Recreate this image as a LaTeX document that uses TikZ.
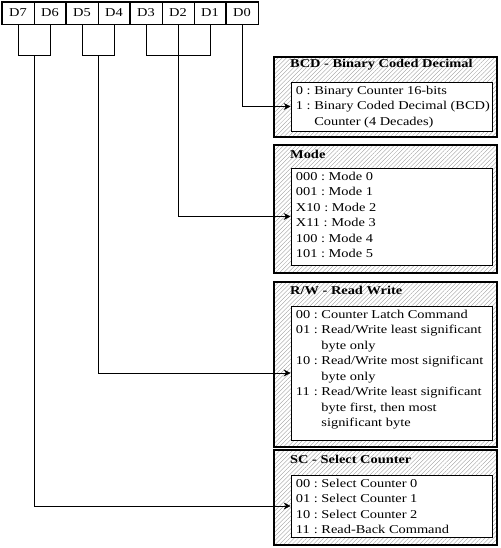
\documentclass[tikz,border=0pt]{standalone}
\usepackage{fontspec}
\setmainfont[FakeStretch=1.2]{Liberation Serif}
\usetikzlibrary{arrows.meta,patterns.meta}
\tikzset{
  cell/.style={draw,line width=0.6pt,minimum width=32pt,minimum height=22pt,inner sep=0pt,font=\fontsize{12}{14}\selectfont},
  grp/.style={draw,line width=1.2pt},
  brk/.style={line width=1pt},
  conn/.style={line width=0.8pt,-{Stealth[length=7pt,width=7pt]}},
  outerbox/.style={draw,line width=1.2pt,minimum width=223pt,inner sep=0pt,
     pattern={Lines[angle=45,distance=3pt,line width=0.35pt]},pattern color=gray!80},
  innerbox/.style={draw,fill=white,line width=0.7pt,minimum width=201pt,inner sep=0pt},
  ttl/.style={anchor=west,inner sep=0pt,font=\bfseries\fontsize{12}{14}\selectfont},
  txt/.style={anchor=north west,inner sep=0pt,font=\fontsize{12}{15.5}\selectfont},
}
\newcommand{\sep}{\ :\ \mbox{}}
\begin{document}
\begin{tikzpicture}[x=1pt,y=-1pt]
\useasboundingbox (0,0) rectangle (500,548);
% register
\foreach \n [count=\i from 0] in {7,6,5,4,3,2,1,0}
  \node[cell] (d\n) at (18+32*\i,13) {D\n};
\draw[grp] (d7.north west) rectangle (d6.south east);
\draw[grp] (d5.north west) rectangle (d4.south east);
\draw[grp] (d3.north west) rectangle (d1.south east);
\draw[grp] (d0.north west) rectangle (d0.south east);
% brackets
\coordinate (b76) at (34,56);
\coordinate (b54) at (98,56);
\coordinate (b31) at (d2.south |- 0,56);
\draw[brk] (d7.south) -- (d7.south |- b76) -- (d6.south |- b76) -- (d6.south);
\draw[brk] (d5.south) -- (d5.south |- b54) -- (d4.south |- b54) -- (d4.south);
\draw[brk] (d3.south) -- (d3.south |- b31) -- (d1.south |- b31) -- (d1.south);
\draw[brk] (d2.south) -- (b31);
% boxes
\node[outerbox,minimum height=80pt] (bcdout) at (385.5,97) {};
\node[innerbox,minimum height=49pt] (bcdin) at (391.5,106.5) {};
\node[ttl] at (290,65) {BCD - Binary Coded Decimal};
\node[txt] at ([xshift=5pt,yshift=-1.5pt]bcdin.north west) {\begin{tabular}{@{}l@{}l@{}l@{}}
0&\sep&Binary Counter 16-bits\\
1&\sep&Binary Coded Decimal (BCD)\\
&&Counter (4 Decades)
\end{tabular}};

\node[outerbox,minimum height=128pt] (modeout) at (385.5,209) {};
\node[innerbox,minimum height=97pt] (modein) at (391.5,216.5) {};
\node[ttl] at (290,154) {Mode};
\node[txt] at ([xshift=5pt,yshift=-1.5pt]modein.north west) {\begin{tabular}{@{}l@{}}
000\sep Mode 0\\
001\sep Mode 1\\
X10\sep Mode 2\\
X11\sep Mode 3\\
100\sep Mode 4\\
101\sep Mode 5
\end{tabular}};

\node[outerbox,minimum height=165pt] (rwout) at (385.5,364.5) {};
\node[innerbox,minimum height=134pt] (rwin) at (391.5,373) {};
\node[ttl] at (290,290) {R/W - Read Write};
\node[txt] at ([xshift=5pt,yshift=-1.5pt]rwin.north west) {\begin{tabular}{@{}l@{}l@{}l@{}}
00&\sep&Counter Latch Command\\
01&\sep&Read/Write least significant\\
&&byte only\\
10&\sep&Read/Write most significant\\
&&byte only\\
11&\sep&Read/Write least significant\\
&&byte first, then most\\
&&significant byte
\end{tabular}};

\node[outerbox,minimum height=95pt] (scout) at (385.5,497.5) {};
\node[innerbox,minimum height=62pt] (scin) at (391.5,506) {};
\node[ttl] at (290,459) {SC - Select Counter};
\node[txt] at ([xshift=5pt,yshift=-1.5pt]scin.north west) {\begin{tabular}{@{}l@{}l@{}l@{}}
00&\sep&Select Counter 0\\
01&\sep&Select Counter 1\\
10&\sep&Select Counter 2\\
11&\sep&Read-Back Command
\end{tabular}};
% connectors
\draw[conn] (d0.south) |- (bcdin.west);
\draw[conn] (b31) |- (modein.west);
\draw[conn] (b54) |- (rwin.west);
\draw[conn] (b76) |- (scin.west);
\end{tikzpicture}
\end{document}
